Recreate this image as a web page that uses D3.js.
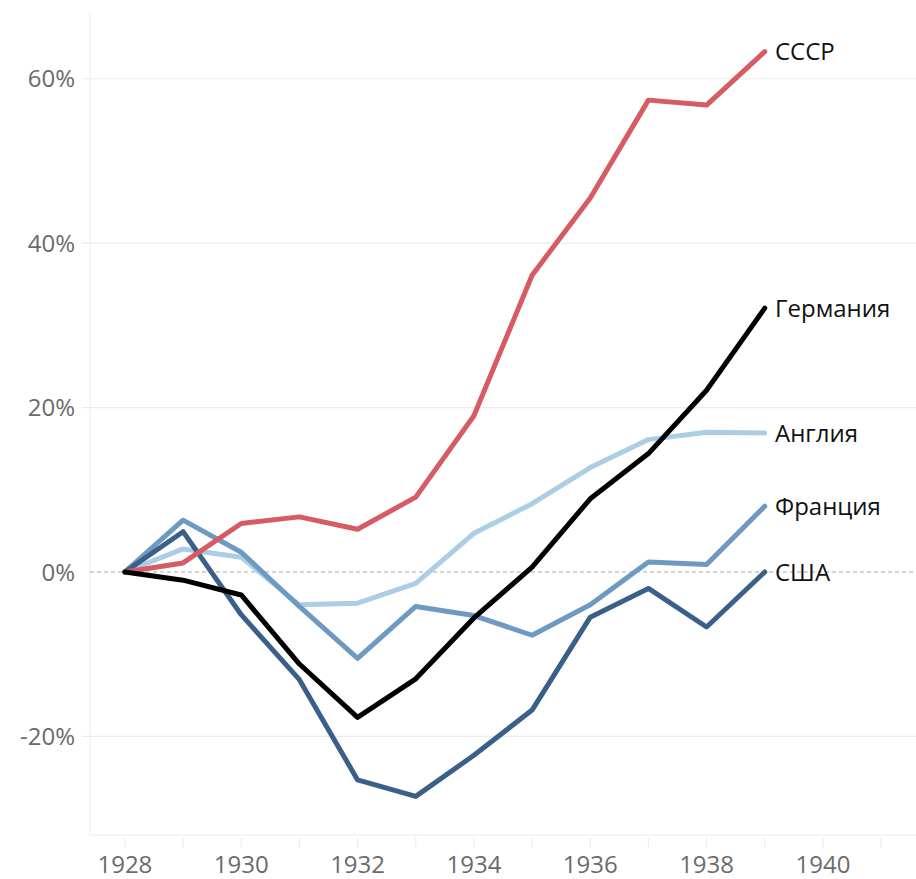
<!DOCTYPE html>
<html>
<head>
<meta charset="utf-8">
<script src="https://cdnjs.cloudflare.com/ajax/libs/d3/7.8.5/d3.min.js"></script>
<style>
  body { margin: 0; background: #fff; }
  svg { display: block; font-family: "Open Sans", "Noto Sans", sans-serif; }
</style>
</head>
<body>
<svg></svg>
<script>
var svg_width = 916;
var svg_height = 879;

// DATA
var years = [1928, 1929, 1930, 1931, 1932, 1933, 1934, 1935, 1936, 1937, 1938, 1939];
var countries = ["СССР", "Германия", "Англия", "Франция", "США"];
var ussr    = [0, 1.1, 5.9, 6.7, 5.2, 9.1, 19.0, 36.1, 45.5, 57.4, 56.8, 63.3];
var germany = [0, -1.0, -2.8, -11.2, -17.7, -13.0, -5.6, 0.6, 8.9, 14.4, 22.1, 32.1];
var england = [0, 2.8, 1.8, -4.0, -3.8, -1.4, 4.7, 8.3, 12.7, 16.1, 17.0, 16.9];
var france  = [0, 6.3, 2.4, -4.2, -10.5, -4.2, -5.3, -7.7, -4.0, 1.2, 0.9, 8.0];
var usa     = [0, 4.9, -5.2, -13.1, -25.3, -27.3, -22.3, -16.8, -5.5, -2.0, -6.7, 0];
var yTicks = [-20, 0, 20, 40, 60];
var xTicks = [1928, 1929, 1930, 1931, 1932, 1933, 1934, 1935, 1936, 1937, 1938, 1939, 1940, 1941];
var xLabels = [1928, 1930, 1932, 1934, 1936, 1938, 1940];

var series = [ussr, germany, england, france, usa];
var colors = ["#d65b62", "#000000", "#abcee6", "#6e99c0", "#3a5f88"];

// SCALES
var xScale = d3.scaleLinear()
               .domain([1927.4, 1941.6])
               .range([90, svg_width]);

var yScale = d3.scaleLinear()
               .domain([-32, 68])
               .range([835, 13]);

var svg = d3.select("svg")
            .attr("width", svg_width)
            .attr("height", svg_height);

// GRID
svg.append("g")
  .selectAll("line")
  .data(yTicks.filter(function(d) { return d !== 0; }))
  .enter()
  .append("line")
    .attr("x1", 82)
    .attr("x2", svg_width)
    .attr("y1", function(d) { return yScale(d); })
    .attr("y2", function(d) { return yScale(d); })
    .attr("stroke", "#ececec")
    .attr("stroke-width", 1.2);

// left and bottom axis lines (faint)
svg.append("line")
    .attr("x1", 90).attr("x2", 90)
    .attr("y1", yScale.range()[1]).attr("y2", yScale.range()[0])
    .attr("stroke", "#f1f1f1")
    .attr("stroke-width", 1.2);

svg.append("line")
    .attr("x1", 90).attr("x2", svg_width)
    .attr("y1", yScale.range()[0]).attr("y2", yScale.range()[0])
    .attr("stroke", "#ececec")
    .attr("stroke-width", 1.2);

// zero line
svg.append("line")
    .attr("x1", 90)
    .attr("x2", svg_width)
    .attr("y1", yScale(0))
    .attr("y2", yScale(0))
    .attr("stroke", "#a8a8a8")
    .attr("stroke-width", 1)
    .attr("stroke-dasharray", "4,3");

// Y LABELS
svg.append("g")
  .selectAll("text")
  .data(yTicks)
  .enter()
  .append("text")
    .attr("x", 75)
    .attr("y", function(d) { return yScale(d); })
    .attr("dy", "0.36em")
    .attr("text-anchor", "end")
    .attr("font-size", 24)
    .attr("fill", "#6b6b6b")
    .text(function(d) { return d + "%"; });

// X AXIS ticks
svg.append("g")
  .selectAll("line")
  .data(xTicks)
  .enter()
  .append("line")
    .attr("x1", function(d) { return xScale(d); })
    .attr("x2", function(d) { return xScale(d); })
    .attr("y1", 838)
    .attr("y2", 847)
    .attr("stroke", "#ececec")
    .attr("stroke-width", 1.2);

svg.append("g")
  .selectAll("text")
  .data(xLabels)
  .enter()
  .append("text")
    .attr("x", function(d) { return xScale(d); })
    .attr("y", 873)
    .attr("text-anchor", "middle")
    .attr("font-size", 24)
    .attr("fill", "#6b6b6b")
    .text(function(d) { return d; });

// LINES
var line = d3.line()
             .x(function(d, i) { return xScale(years[i]); })
             .y(function(d) { return yScale(d); });

// draw order: lighter first, USSR and Germany on top
var order = [2, 3, 4, 0, 1];

svg.append("g")
  .selectAll("path")
  .data(order)
  .enter()
  .append("path")
    .attr("d", function(k) { return line(series[k]); })
    .attr("fill", "none")
    .attr("stroke", function(k) { return colors[k]; })
    .attr("stroke-width", 5)
    .attr("stroke-linejoin", "round")
    .attr("stroke-linecap", "round");

// SERIES LABELS
svg.append("g")
  .selectAll("text")
  .data(countries)
  .enter()
  .append("text")
    .attr("x", 775)
    .attr("y", function(d, i) { return yScale(series[i][series[i].length - 1]); })
    .attr("dy", "0.36em")
    .attr("font-size", 24)
    .attr("font-weight", 500)
    .attr("fill", "#111")
    .text(function(d) { return d; });
</script>
</body>
</html>
